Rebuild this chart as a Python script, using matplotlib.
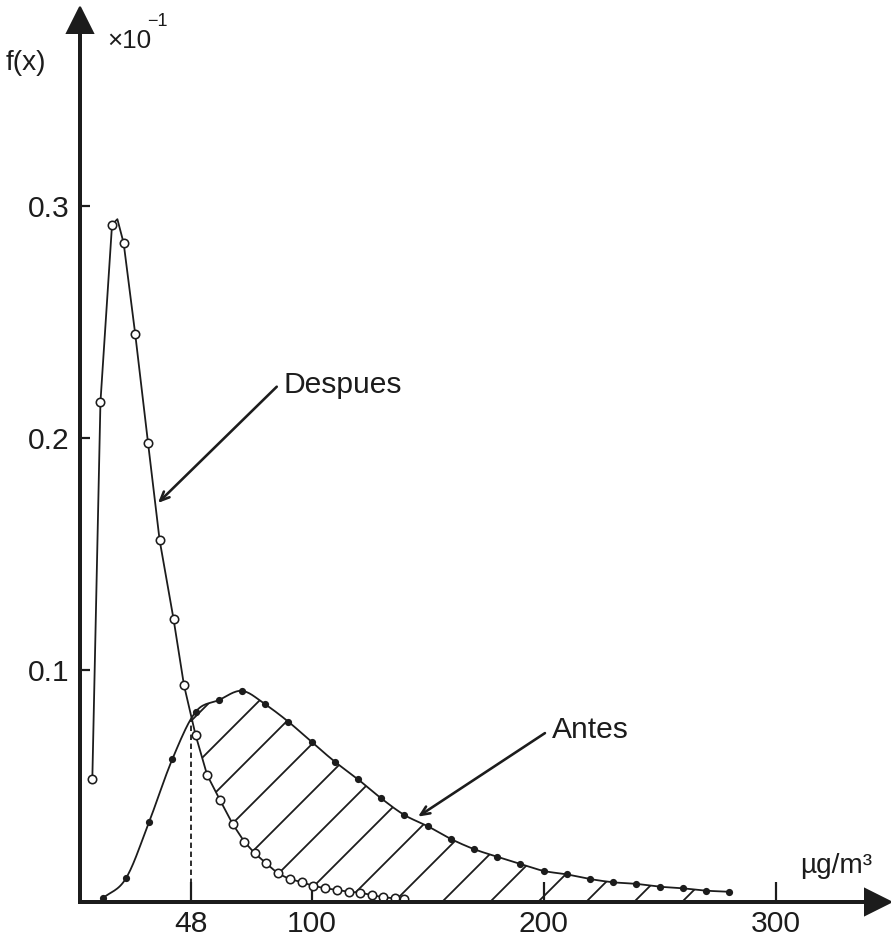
import numpy as np
import matplotlib
matplotlib.use("Agg")
import matplotlib.pyplot as plt

# "Despues" curve (open circles)
despues_x = [5.5, 9, 14, 19, 24, 29.5, 34.5, 40.5, 45, 50,
             55, 60.5, 66, 71, 75.5, 80.5, 85.5, 90.5, 96, 100.5,
             106, 111, 116, 121, 126, 131, 136, 140]
despues_y = [0.053, 0.2155, 0.292, 0.284, 0.2447, 0.198, 0.156, 0.122, 0.0935, 0.072,
             0.0547, 0.044, 0.0336, 0.026, 0.021, 0.0166, 0.0123, 0.0099, 0.0085, 0.007,
             0.0059, 0.0052, 0.0044, 0.004, 0.003, 0.002, 0.0016, 0.0011]
# top of the pen line between the 3rd and 4th circles
despues_peak = (16.3, 0.2943)

# "Antes" curve (small filled dots)
antes_x = [10, 20, 30, 40, 50, 60, 70, 80, 90, 100,
           110, 120, 130, 140, 150, 160, 170, 180, 190, 200,
           210, 220, 230, 240, 250, 260, 270, 280]
antes_y = [0.0016, 0.0102, 0.0346, 0.0616, 0.0819, 0.087, 0.091, 0.0852, 0.0777, 0.069,
           0.0605, 0.0529, 0.0447, 0.0375, 0.0327, 0.0272, 0.0228, 0.0195, 0.0164, 0.0134,
           0.0119, 0.0099, 0.0085, 0.0078, 0.0066, 0.0059, 0.0049, 0.0044]

x_ticks = [48, 100, 200, 300]
y_ticks = [0.1, 0.2, 0.3]
cut_x = 48

INK = "#1c1c1c"
plt.rcParams["font.family"] = ["Liberation Sans", "DejaVu Sans"]
plt.rcParams["hatch.linewidth"] = 0.9
plt.rcParams["hatch.color"] = INK


def smooth(x, y, n=16):
    """Catmull-Rom pass through the points, only for drawing the pen line."""
    p = np.column_stack([x, y]).astype(float)
    p = np.vstack([2 * p[0] - p[1], p, 2 * p[-1] - p[-2]])
    out = []
    t = np.linspace(0, 1, n, endpoint=False)[:, None]
    for i in range(1, len(p) - 2):
        p0, p1, p2, p3 = p[i - 1], p[i], p[i + 1], p[i + 2]
        seg = 0.5 * ((2 * p1) + (-p0 + p2) * t + (2 * p0 - 5 * p1 + 4 * p2 - p3) * t ** 2
                     + (-p0 + 3 * p1 - 3 * p2 + p3) * t ** 3)
        out.append(seg)
    out.append(p[-2][None, :])
    out = np.vstack(out)
    return out[:, 0], out[:, 1]


fig = plt.figure(figsize=(891 / 144, 941 / 144), dpi=144)
ax = fig.add_axes([0.0893, 0.04145, 0.8957, 0.9369])
ax.set_xlim(0, 344)
ax.set_ylim(0, 0.38)

# Despues pen line: straight strokes, with the rounded top as an extra vertex
dxs = np.insert(np.array(despues_x, float), 3, despues_peak[0])
dys = np.insert(np.array(despues_y, float), 3, despues_peak[1])
axs, ays = smooth(antes_x, antes_y)

# hatched area between the two curves, right of the cut
gx = np.linspace(cut_x, antes_x[-1], 800)
upper = np.interp(gx, axs, ays)
lower = np.interp(gx, dxs, dys, right=0.0)
ax.fill_between(gx, lower, upper, where=upper >= lower, facecolor="none",
                edgecolor=INK, hatch="/", linewidth=0)

ax.plot(dxs, dys, color=INK, lw=0.9)
ax.plot(despues_x, despues_y, "o", ms=4.2, mfc="white", mec=INK, mew=0.8)
ax.plot(axs, ays, color=INK, lw=0.9)
ax.plot(antes_x, antes_y, "o", ms=2.6, color=INK)

cut_y = np.interp(cut_x, axs, ays)
ax.plot([cut_x, cut_x], [0, cut_y], color=INK, lw=0.9, ls=(0, (3, 2)))

# axes with arrow heads
for side in ["top", "right"]:
    ax.spines[side].set_visible(False)
for side in ["left", "bottom"]:
    ax.spines[side].set_linewidth(2)
    ax.spines[side].set_color(INK)
ax.plot(1, 0, ">", transform=ax.transAxes, clip_on=False, ms=13, color=INK)
ax.plot(0, 1, "^", transform=ax.transAxes, clip_on=False, ms=13, color=INK)

ax.set_xticks(x_ticks)
ax.set_xticklabels([str(v) for v in x_ticks])
ax.set_yticks(y_ticks)
ax.set_yticklabels([f"{v:.1f}" for v in y_ticks])
ax.tick_params(axis="x", direction="in", length=10, width=1.1, pad=4,
               labelsize=15, colors=INK)
ax.tick_params(axis="y", direction="in", length=5, width=1.1, pad=5,
               labelsize=15, colors=INK)

# labels with leader arrows
arrow = dict(arrowstyle="->,head_length=0.45,head_width=0.2", lw=1.3,
             color=INK, shrinkA=0, shrinkB=0)
ax.annotate("", xy=(33.8, 0.172), xytext=(85, 0.2221), arrowprops=arrow)
ax.text(87.7, 0.2228, "Despues", ha="left", va="center", fontsize=15, color=INK)
ax.annotate("", xy=(145.9, 0.0368), xytext=(200.6, 0.0728), arrowprops=arrow)
ax.text(203.5, 0.0741, "Antes", ha="left", va="center", fontsize=15, color=INK)

W, H = 891, 941
fig.text(26 / W, 1 - 63 / H, "f(x)", ha="center", va="center", fontsize=14, color=INK)
fig.text(107 / W, 1 - 41 / H, "×10", ha="left", va="center", fontsize=13, color=INK)
fig.text(147 / W, 1 - 22 / H, "−1", ha="left", va="center", fontsize=9, color=INK)
fig.text(800 / W, 1 - 866 / H, "µg/m³", ha="left", va="center", fontsize=14, color=INK)

fig.savefig("out.png", dpi=144, facecolor="white")
